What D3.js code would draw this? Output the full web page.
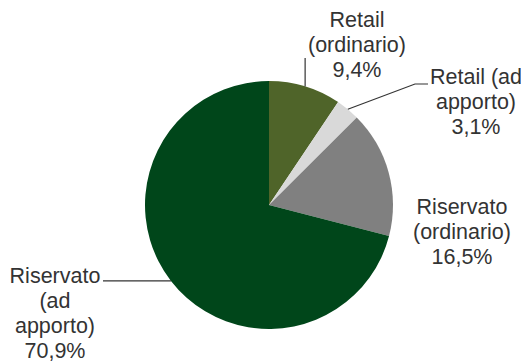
<!DOCTYPE html>
<html>
<head>
<meta charset="utf-8">
<script src="https://cdn.jsdelivr.net/npm/d3@7/dist/d3.min.js"></script>
<style>
  html, body { margin: 0; padding: 0; background: #fff; }
  svg { display: block; }
  text { font-family: "Liberation Sans", Arial, Helvetica, sans-serif; fill: #333; }
</style>
</head>
<body>
<svg id="chart" width="521" height="362"></svg>
<script>
// Quote per tipologia di collocamento (%)
const categories = ["Retail (ordinario)", "Retail (ad apporto)", "Riservato (ordinario)", "Riservato (ad apporto)"];
const values = [9.4, 3.1, 16.5, 70.9];
const labelLines = [
  ["Retail", "(ordinario)"],
  ["Retail (ad", "apporto)"],
  ["Riservato", "(ordinario)"],
  ["Riservato", "(ad", "apporto)"]
];
const colors = ["#4f6429", "#d9d9d9", "#808080", "#00461a"];

const width = 521, height = 362;
const cx = 269, cy = 205, radius = 124;
const fontSize = 21.5, lineHeight = 25;

const it = d3.formatLocale({ decimal: ",", thousands: ".", grouping: [3], currency: ["", "€"] });
const fmt = v => it.format(".1f")(v) + "%";

const svg = d3.select("#chart");
const g = svg.append("g").attr("transform", `translate(${cx},${cy})`);

const pie = d3.pie().sort(null).value(d => d.value);
const arcs = pie(categories.map((c, i) => ({ name: c, value: values[i], color: colors[i] })));

const arc = d3.arc().innerRadius(0).outerRadius(radius);

g.selectAll("path.slice")
  .data(arcs)
  .join("path")
  .attr("class", "slice")
  .attr("d", arc)
  .attr("fill", d => d.data.color);

// point on the rim at each slice's mid angle (absolute coordinates)
function rimPoint(d) {
  const a = (d.startAngle + d.endAngle) / 2;
  return [cx + radius * Math.sin(a), cy - radius * Math.cos(a)];
}

// label placement and leader routing
const labelLayout = [
  { x: 357, y: 27, leader: p => [p, [p[0], 58]] },
  { x: 476, y: 84, leader: p => [p, [415, 84], [428, 84]] },
  { x: 462, y: 214, leader: null },
  { x: 55, y: 283, leader: p => [p, [103, p[1]]] }
];

const line = d3.line();

arcs.forEach((d, i) => {
  const lay = labelLayout[i];
  if (lay.leader) {
    svg.append("path")
      .attr("d", line(lay.leader(rimPoint(d))))
      .attr("fill", "none")
      .attr("stroke", "#333")
      .attr("stroke-width", 1.2);
  }
  const t = svg.append("text")
    .attr("text-anchor", "middle")
    .attr("font-size", fontSize)
    .attr("x", lay.x)
    .attr("y", lay.y);
  const lines = labelLines[i].concat([fmt(d.data.value)]);
  lines.forEach((s, k) => {
    t.append("tspan")
      .attr("x", lay.x)
      .attr("dy", k === 0 ? 0 : lineHeight)
      .text(s);
  });
});
</script>
</body>
</html>
